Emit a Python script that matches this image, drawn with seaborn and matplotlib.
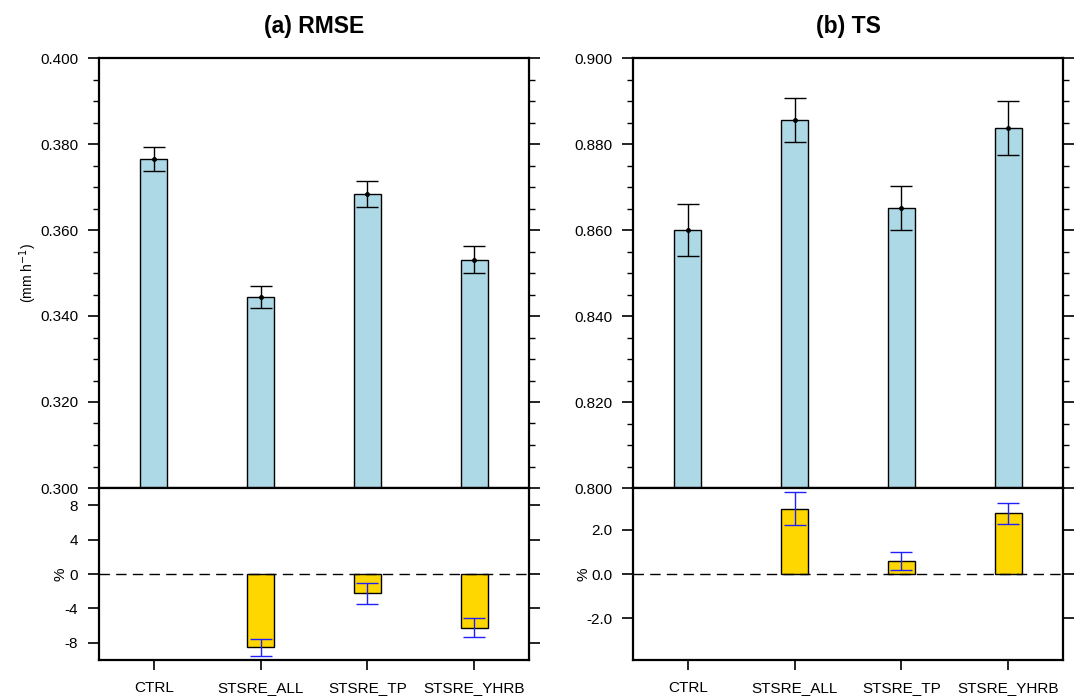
import matplotlib
matplotlib.use("Agg")
import matplotlib.pyplot as plt
import seaborn as sns
import numpy as np
import pandas as pd
from matplotlib.ticker import MultipleLocator

sns.set_theme(style="ticks")
plt.rcParams['font.family'] = ['Liberation Sans', 'DejaVu Sans']
plt.rcParams['text.color'] = 'black'
plt.rcParams['axes.labelcolor'] = 'black'
plt.rcParams['xtick.color'] = 'black'
plt.rcParams['ytick.color'] = 'black'
plt.rcParams['axes.edgecolor'] = 'black'

# ---------------- data ----------------
categories = ["CTRL", "STSRE_ALL", "STSRE_TP", "STSRE_YHRB"]
experiments = ["STSRE_ALL", "STSRE_TP", "STSRE_YHRB"]

rmse_values = [0.3765, 0.3444, 0.3684, 0.3531]
rmse_err = [0.0028, 0.0025, 0.0030, 0.0031]
rmse_pct = [-8.50, -2.25, -6.25]
rmse_pct_err = [1.00, 1.20, 1.10]

ts_values = [0.8600, 0.8856, 0.8651, 0.8837]
ts_err = [0.0060, 0.0051, 0.0051, 0.0062]
ts_pct = [2.97, 0.58, 2.75]
ts_pct_err = [0.75, 0.40, 0.49]

rmse_ticks = [0.300, 0.320, 0.340, 0.360, 0.380, 0.400]
rmse_ticklabels = ["0.300", "0.320", "0.340", "0.360", "0.380", "0.400"]
ts_ticks = [0.800, 0.820, 0.840, 0.860, 0.880, 0.900]
ts_ticklabels = ["0.800", "0.820", "0.840", "0.860", "0.880", "0.900"]
rmse_pct_ticks = [-8, -4, 0, 4, 8]
rmse_pct_ticklabels = ["-8", "-4", "0", "4", "8"]
ts_pct_ticks = [-2.0, 0.0, 2.0]
ts_pct_ticklabels = ["-2.0", "0.0", "2.0"]

titles = ["(a) RMSE", "(b) TS"]
main_ylabel = "(mm h$^{-1}$)"
pct_ylabel = "%"

# ---------------- figure ----------------
W, H = 1083, 696
fig = plt.figure(figsize=(W / 100, H / 100), dpi=100)

def fx(px):
    return px / W

def fy(py):
    return 1 - py / H

top, mid, bot = 58, 488, 660
lefts = [99, 633]
width = 430

bar_blue = "#ADD8E6"
bar_gold = "#FFD700"
spine_lw = 1.6

panels = [
    dict(vals=rmse_values, err=rmse_err, pct=rmse_pct, pct_err=rmse_pct_err,
         ylim=(0.300, 0.400), ticks=rmse_ticks, tlabels=rmse_ticklabels,
         pylim=(-10, 10), pticks=rmse_pct_ticks, ptlabels=rmse_pct_ticklabels,
         ylabel=main_ylabel, pct_label_x=-0.074),
    dict(vals=ts_values, err=ts_err, pct=ts_pct, pct_err=ts_pct_err,
         ylim=(0.800, 0.900), ticks=ts_ticks, tlabels=ts_ticklabels,
         pylim=(-3.9, 3.9), pticks=ts_pct_ticks, ptlabels=ts_pct_ticklabels,
         ylabel=None, pct_label_x=-0.098),
]

pos_all = np.arange(len(categories))
pos_exp = [categories.index(c) for c in experiments]

for i, p in enumerate(panels):
    x0 = fx(lefts[i])
    w = width / W
    ax = fig.add_axes([x0, fy(mid), w, (mid - top) / H])
    axl = fig.add_axes([x0, fy(bot), w, (bot - mid) / H])

    # main panel
    df = pd.DataFrame({"cat": categories, "val": p["vals"]})
    sns.barplot(data=df, x="cat", y="val", order=categories, color=bar_blue,
                saturation=1, edgecolor="black", linewidth=1.0, width=0.25,
                errorbar=None, ax=ax)
    ax.errorbar(pos_all, p["vals"], yerr=p["err"], fmt="o", ms=2.5,
                color="black", ecolor="black", elinewidth=1.0, capsize=8,
                capthick=1.0, zorder=5)
    ax.set_ylim(*p["ylim"])
    ax.set_xlim(-0.512, 3.512)
    ax.set_yticks(p["ticks"])
    ax.set_yticklabels(p["tlabels"], fontsize=11)
    ax.yaxis.set_minor_locator(MultipleLocator(0.005))
    ax.tick_params(axis="y", which="major", direction="out", length=8, width=1.2,
                   left=True, right=True, pad=7)
    ax.tick_params(axis="y", which="minor", direction="out", length=4.3, width=1.0,
                   left=True, right=True)
    ax.tick_params(axis="x", which="both", bottom=False, top=False,
                   labelbottom=False)
    ax.set_xlabel("")
    if p["ylabel"]:
        ax.set_ylabel(p["ylabel"], fontsize=10)
        ax.yaxis.set_label_coords(-0.14, 0.5)
    else:
        ax.set_ylabel("")
    for s in ax.spines.values():
        s.set_visible(True)
        s.set_linewidth(spine_lw)
        s.set_color("black")
    ax.set_title(titles[i], fontsize=16.5, fontweight="bold", pad=18)

    # lower panel
    dfl = pd.DataFrame({"cat": experiments, "val": p["pct"]})
    sns.barplot(data=dfl, x="cat", y="val", order=categories, color=bar_gold,
                saturation=1, edgecolor="black", linewidth=1.0, width=0.25,
                errorbar=None, ax=axl)
    axl.errorbar(pos_exp, p["pct"], yerr=p["pct_err"], fmt="none",
                 ecolor="#2020ff", elinewidth=1.0, capsize=8, capthick=1.0,
                 zorder=5)
    axl.axhline(0, color="black", lw=1.0, ls=(0, (7.5, 4.5)), zorder=1)
    axl.set_ylim(*p["pylim"])
    axl.set_xlim(-0.512, 3.512)
    axl.set_yticks(p["pticks"])
    axl.set_yticklabels(p["ptlabels"], fontsize=11)
    axl.tick_params(axis="y", which="major", direction="out", length=8, width=1.2,
                    left=True, right=True, pad=7)
    axl.set_xticks(pos_all)
    axl.set_xticklabels(categories, fontsize=11)
    axl.tick_params(axis="x", which="major", direction="out", length=7, width=1.2,
                    bottom=True, top=False, pad=8)
    axl.set_xlabel("")
    axl.set_ylabel(pct_ylabel, fontsize=11)
    axl.yaxis.set_label_coords(p["pct_label_x"], 0.5)
    for s in axl.spines.values():
        s.set_visible(True)
        s.set_linewidth(spine_lw)
        s.set_color("black")

fig.savefig("out.png", dpi=100)
